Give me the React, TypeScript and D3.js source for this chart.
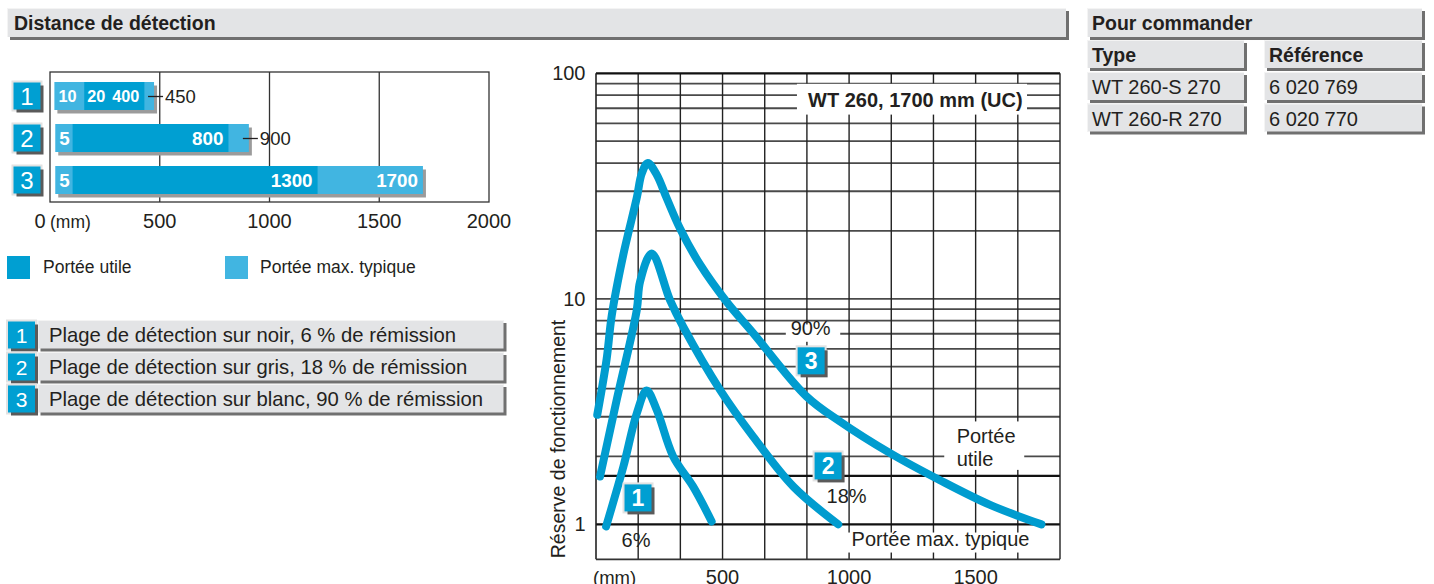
import React from 'react';
import * as d3 from 'd3';

const FONT = '"Liberation Sans", Arial, Helvetica, sans-serif';
const TXT = '#231f20';
const BLUE = '#009fd2';
const LIGHT = '#41b5e1';
const CURVE = '#009ccf';
const PANEL = '#e3e4e6';
const PANEL_SH = '#707070';

// ---------- bar chart (Distance de détection) ----------
const barIds = ['1', '2', '3'];
const barStart = [20, 24, 24];
const barUtileStart = [156, 103, 103];
const barUtileEnd = [430, 813, 1219];
const barMaxEnd = [474, 906, 1699];
const minLabels = ['10', '5', '5'];
const utileMinLabels = ['20', '', ''];
const utileMaxLabels = ['400', '800', '1300'];
const maxLabels = ['450', '900', '1700'];
const maxInside = [false, false, true];
const barLabelSize = [16.3, 18.8, 18.8];
const barTicks = [0, 500, 1000, 1500, 2000];
const barGrid = [500, 1000, 1500];

const legendLabels = ['Portée utile', 'Portée max. typique'];
const listLabels = [
  'Plage de détection sur noir, 6 % de rémission',
  'Plage de détection sur gris, 18 % de rémission',
  'Plage de détection sur blanc, 90 % de rémission',
];

// ---------- curve chart (Réserve de fonctionnement) ----------
const curve1: [number, number][] = [
  [40, 0.98], [108, 1.8], [161, 3.1], [200, 3.92], [240, 3.22], [305, 2.0], [384, 1.47], [457, 1.03],
];
const curve2: [number, number][] = [
  [16, 1.63], [82, 3.57], [161, 8.9], [174, 11.9], [220, 15.9], [292, 9.9], [345, 7.5],
  [490, 3.95], [621, 2.45], [780, 1.47], [957, 1.0],
];
const curve3: [number, number][] = [
  [5, 3.06], [42, 5.4], [62, 8.4], [108, 15.7], [161, 28], [181, 36], [205, 40], [240, 35.5], [279, 28],
  [332, 20.5], [411, 14.2], [516, 9.7], [621, 7.05], [832, 3.69], [964, 2.86], [1162, 2.07], [1359, 1.57],
  [1557, 1.22], [1760, 1.0],
];
const curves = [curve1, curve2, curve3];
const curveXTicks = [500, 1000, 1500];
const curveYTicks = [1, 10, 100];
const utileThreshold = 1.64;
const maxThreshold = 1;

// ---------- order table ----------
const orderHeader = ['Type', 'Référence'];
const orderTypes = ['WT 260-S 270', 'WT 260-R 270'];
const orderRefs = ['6 020 769', '6 020 770'];

function Panel({ x, y, w, h }: { x: number; y: number; w: number; h: number }) {
  return (
    <g>
      <rect x={x + 3} y={y + 3} width={w} height={h} fill={PANEL_SH} />
      <rect x={x} y={y} width={w} height={h} fill={PANEL} />
      <line x1={x} y1={y + 0.5} x2={x + w} y2={y + 0.5} stroke="#f4f4f4" strokeWidth={1} />
      <line x1={x + 0.5} y1={y} x2={x + 0.5} y2={y + h} stroke="#f4f4f4" strokeWidth={1} />
    </g>
  );
}

function Badge({ cx, cy, s, label, fs, bold }: { cx: number; cy: number; s: number; label: string; fs: number; bold?: boolean }) {
  const x = cx - s / 2;
  const y = cy - s / 2;
  return (
    <g>
      <rect x={x - 2} y={y - 2} width={s + 4} height={s + 4} fill="#e2e2e2" />
      <rect x={x + 3} y={y + 3} width={s} height={s} fill="#5a5a5a" />
      <rect x={x} y={y} width={s} height={s} fill={BLUE} />
      <text x={cx} y={cy + fs * 0.36} textAnchor="middle" fill="#fff" fontSize={fs} fontWeight={bold ? 700 : 400} fontFamily={FONT}>
        {label}
      </text>
    </g>
  );
}

export default function App() {
  // bar chart scales
  const xB = d3.scaleLinear().domain([0, 2000]).range([50, 489]);
  const yB = d3.scalePoint<string>().domain(barIds).range([96, 180]);
  const barH = 28;

  // curve chart scales
  const xC = d3.scaleLinear().domain([0, 5500 / 3]).range([596, 1060]);
  const yC = d3.scaleLog().domain([0.7, 100]).range([559.3, 73.3]);
  const gridX = d3.range(1, 11).map((i) => (i * 500) / 3);
  const gridY = [...d3.range(2, 10), ...d3.range(10, 100, 10)];
  const line = d3
    .line<[number, number]>()
    .x((d) => xC(d[0]))
    .y((d) => yC(d[1]))
    .curve(d3.curveCatmullRom.alpha(0.5));

  const [x0, x1] = xC.range();
  const [yBot, yTop] = yC.range();

  return (
    <div style={{ position: 'absolute', left: 0, top: 0, width: 1434, height: 584, overflow: 'hidden' }}>
      <svg width={1434} height={584} style={{ display: 'block' }} fontFamily={FONT}>
        <rect width={1434} height={584} fill="#fff" />

        {/* ===== header ===== */}
        <Panel x={7} y={8} w={1059} h={29} />
        <text x={14} y={29.5} fontSize={19.5} fontWeight={700} fill={TXT}>Distance de détection</text>

        {/* ===== bar chart ===== */}
        <rect x={xB(0)} y={72} width={xB(2000) - xB(0)} height={130} fill="#fff" stroke="#333" strokeWidth={1.3} />
        {barGrid.map((v) => (
          <line key={v} x1={xB(v)} x2={xB(v)} y1={72} y2={202} stroke="#333" strokeWidth={1.3} />
        ))}
        {barIds.map((id, i) => {
          const cy = yB(id)!;
          const top = cy - barH / 2;
          const xs = xB(barStart[i]);
          const xu0 = xB(barUtileStart[i]);
          const xu1 = xB(barUtileEnd[i]);
          const xe = xB(barMaxEnd[i]);
          const fs = barLabelSize[i];
          const base = cy + fs * 0.36;
          return (
            <g key={id}>
              <Badge cx={27} cy={cy} s={27} label={id} fs={24} />
              <rect x={xs + 3} y={top + 3.5} width={xe - xs} height={barH} fill="#9b9b9b" />
              <rect x={xs} y={top} width={xe - xs} height={barH} fill={LIGHT} />
              <rect x={xu0} y={top} width={xu1 - xu0} height={barH} fill={BLUE} />
              <text x={xs + 4} y={base} fontSize={fs} fontWeight={700} fill="#fff">{minLabels[i]}</text>
              {utileMinLabels[i] && (
                <text x={xu0 + 3} y={base} fontSize={fs} fontWeight={700} fill="#fff">{utileMinLabels[i]}</text>
              )}
              <text x={xu1 - 5} y={base} textAnchor="end" fontSize={fs} fontWeight={700} fill="#fff">{utileMaxLabels[i]}</text>
              {maxInside[i] ? (
                <text x={xe - 5} y={base} textAnchor="end" fontSize={fs} fontWeight={700} fill="#fff">{maxLabels[i]}</text>
              ) : (
                <g>
                  <line x1={xe - 6} x2={xe + 9} y1={cy + 0.5} y2={cy + 0.5} stroke={TXT} strokeWidth={1.3} />
                  <text x={xe + 11} y={cy + 6.5} fontSize={18.5} fill={TXT}>{maxLabels[i]}</text>
                </g>
              )}
            </g>
          );
        })}
        {barTicks.map((v) =>
          v === 0 ? (
            <g key={v}>
              <text x={xB(v) - 10} y={227.5} textAnchor="middle" fontSize={20} fill={TXT}>0</text>
              <text x={xB(v)} y={227.5} fontSize={17.5} fill={TXT}>(mm)</text>
            </g>
          ) : (
            <text key={v} x={xB(v)} y={227.5} textAnchor="middle" fontSize={20} fill={TXT}>{v}</text>
          )
        )}

        {/* legend */}
        <rect x={7} y={256} width={23} height={23} fill={BLUE} />
        <text x={43} y={273} fontSize={17.5} fill={TXT}>{legendLabels[0]}</text>
        <rect x={225} y={256} width={23} height={23} fill={LIGHT} />
        <text x={260} y={273} fontSize={17.5} fill={TXT}>{legendLabels[1]}</text>

        {/* numbered list */}
        {listLabels.map((t, i) => {
          const y = 320 + i * 32;
          return (
            <g key={i}>
              <Panel x={37.5} y={y} w={466} h={28.5} />
              <Badge cx={21.5} cy={y + 15} s={27} label={String(i + 1)} fs={21} />
              <text x={49} y={y + 21.5} fontSize={20.3} fill={TXT}>{t}</text>
            </g>
          );
        })}

        {/* ===== curve chart ===== */}
        {gridY.map((v) => (
          <line key={'h' + v} x1={x0} x2={x1} y1={yC(v)} y2={yC(v)} stroke="#4a4a4a" strokeWidth={1.8} />
        ))}
        {gridX.map((v) => (
          <line key={'v' + v} x1={xC(v)} x2={xC(v)} y1={yTop} y2={yBot} stroke="#222" strokeWidth={1.4} />
        ))}
        {[maxThreshold, utileThreshold, 100].map((v) => (
          <line key={'t' + v} x1={x0} x2={x1} y1={yC(v)} y2={yC(v)} stroke="#111" strokeWidth={2.2} />
        ))}
        <line x1={x0} x2={x0} y1={yTop} y2={yBot} stroke="#222" strokeWidth={1.6} />
        <line x1={x1} x2={x1} y1={yTop} y2={yBot} stroke="#222" strokeWidth={1.4} />
        <line x1={x0} x2={x1} y1={yBot} y2={yBot} stroke="#333" strokeWidth={1.8} />

        {/* white label boxes */}
        <rect x={xC(794)} y={yC(89.8)} width={xC(1703) - xC(794)} height={yC(65.6) - yC(89.8)} fill="#fff" />
        <rect x={xC(750)} y={yC(7.7)} width={xC(965) - xC(750)} height={yC(6.45) - yC(7.7)} fill="#fff" />
        <rect x={xC(1376)} y={yC(2.86)} width={xC(1692) - xC(1376)} height={yC(1.744) - yC(2.86)} fill="#fff" />
        <rect x={xC(995)} y={yC(0.92)} width={xC(1700) - xC(995)} height={yC(0.75) - yC(0.92)} fill="#fff" />

        {curves.map((c, i) => (
          <path key={i} d={line(c) ?? ''} fill="none" stroke={CURVE} strokeWidth={8} strokeLinecap="round" strokeLinejoin="round" />
        ))}

        <text x={xC(838)} y={yC(71)} fontSize={20} fontWeight={700} fill={TXT}>WT 260, 1700 mm (UC)</text>
        <text x={xC(769)} y={yC(6.93)} fontSize={20} fill={TXT}>90%</text>
        <Badge cx={xC(850)} cy={yC(5.31)} s={27} label="3" fs={23} bold />
        <Badge cx={xC(917)} cy={yC(1.816)} s={27} label="2" fs={23} bold />
        <text x={xC(911)} y={yC(1.245)} fontSize={20} fill={TXT}>18%</text>
        <Badge cx={xC(166)} cy={yC(1.31)} s={27} label="1" fs={23} bold />
        <text x={xC(101)} y={yC(0.796)} fontSize={20} fill={TXT}>6%</text>
        <text x={xC(1010)} y={yC(0.8)} fontSize={20} fill={TXT}>Portée max. typique</text>
        <text x={xC(1425)} y={yC(2.29)} fontSize={20} fill={TXT}>Portée</text>
        <text x={xC(1425)} y={yC(1.82)} fontSize={20} fill={TXT}>utile</text>

        {/* axes labels */}
        {curveYTicks.map((v) => (
          <text key={v} x={585.5} y={yC(v) + 7} textAnchor="end" fontSize={20} fill={TXT}>{v}</text>
        ))}
        <text x={593} y={584} fontSize={18.5} fill={TXT}>(mm)</text>
        {curveXTicks.map((v) => (
          <text key={v} x={xC(v)} y={584} textAnchor="middle" fontSize={20} fill={TXT}>{v}</text>
        ))}
        <text transform={`translate(565,439) rotate(-90)`} textAnchor="middle" fontSize={19.5} fill={TXT}>
          Réserve de fonctionnement
        </text>

        {/* ===== order table ===== */}
        <Panel x={1087} y={8} w={335} h={29} />
        <text x={1092} y={29.5} fontSize={19.5} fontWeight={700} fill={TXT}>Pour commander</text>
        {[0, 1].map((c) => {
          const cx = c === 0 ? 1087 : 1264;
          const cw = c === 0 ? 157 : 158;
          return (
            <g key={c}>
              <Panel x={cx} y={40} w={cw} h={28} />
              <text x={cx + 5} y={62} fontSize={19.5} fontWeight={700} fill={TXT}>{orderHeader[c]}</text>
              {(c === 0 ? orderTypes : orderRefs).map((t, r) => (
                <g key={r}>
                  <Panel x={cx} y={72 + r * 31.5} w={cw} h={28} />
                  <text x={cx + 5} y={94 + r * 31.5} fontSize={20} fill={TXT}>{t}</text>
                </g>
              ))}
            </g>
          );
        })}
      </svg>
    </div>
  );
}
